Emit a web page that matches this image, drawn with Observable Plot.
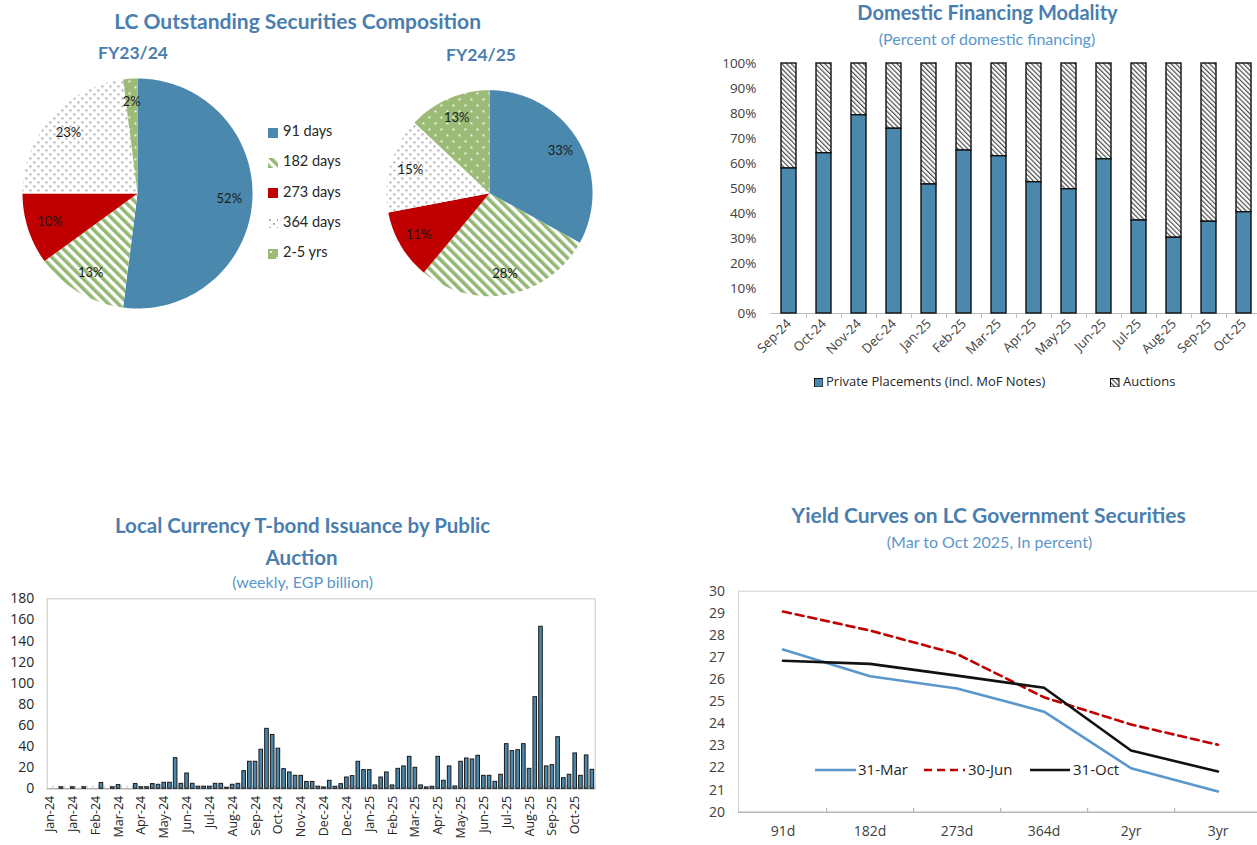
<!DOCTYPE html>
<html><head><meta charset="utf-8">
<script src="https://cdn.jsdelivr.net/npm/d3@7"></script>
<script src="https://cdn.jsdelivr.net/npm/@observablehq/plot@0.6"></script>
<style>
html,body{margin:0;padding:0;background:#fff;overflow:hidden;}
#root{position:relative;width:1257px;height:845px;overflow:hidden;}
.t{position:absolute;white-space:nowrap;line-height:1;transform:translateX(-50%);text-align:center;}
.title{font-family:Lato,sans-serif;font-weight:700;color:#4a7eae;}
.sub{font-family:Lato,sans-serif;font-weight:400;color:#5b96cb;}
.lg{position:absolute;white-space:nowrap;line-height:1;color:#262626;}
</style></head>
<body>
<svg width="0" height="0" style="position:absolute">
<defs>
<pattern id="p182" patternUnits="userSpaceOnUse" width="7" height="7" patternTransform="rotate(-45)"><rect width="7" height="7" fill="#fff"/><rect width="3.6" height="7" fill="#93b874"/></pattern>
<pattern id="p364" patternUnits="userSpaceOnUse" width="8" height="8"><rect width="8" height="8" fill="#fff"/><rect x="1" y="1" width="1.8" height="1.8" fill="#9a9a9a"/><rect x="5" y="5" width="1.8" height="1.8" fill="#9a9a9a"/></pattern>
<pattern id="p25" patternUnits="userSpaceOnUse" width="12" height="12"><rect width="12" height="12" fill="#9bbb77"/><rect x="2" y="2" width="1.8" height="1.8" fill="#fff"/><rect x="8" y="8" width="1.8" height="1.8" fill="#fff"/></pattern>
<pattern id="pAuc" patternUnits="userSpaceOnUse" width="3.4" height="3.4" patternTransform="rotate(-45)"><rect width="3.4" height="3.4" fill="#fff"/><rect width="1.2" height="3.4" fill="#4d4d4d"/></pattern>
</defs></svg>
<div id="root"></div>
<script>
// ---------------- DATA ----------------
const maturities = ["91 days", "182 days", "273 days", "364 days", "2-5 yrs"];
const fy2324Shares = [52, 13, 10, 23, 2];
const fy2425Shares = [33, 28, 11, 15, 13];
const maturityFills = ["#4a89ad", "url(#p182)", "#c00000", "url(#p364)", "url(#p25)"];

const financingMonths = ["Sep-24","Oct-24","Nov-24","Dec-24","Jan-25","Feb-25","Mar-25","Apr-25","May-25","Jun-25","Jul-25","Aug-25","Sep-25","Oct-25"];
const privatePlacementsPct = [58.0, 64.1, 79.3, 73.9, 51.6, 65.2, 62.9, 52.5, 49.7, 61.7, 37.2, 30.3, 36.7, 40.5];

const weeklyIssuance = [
  0, 0, 1.5, 0, 1.5, 0, 1.5, 0, 0, 5.5, 0, 1.5, 3.5, 0, 0, 4.5,
  1.5, 1.5, 4.5, 3.8, 5.7, 5.7, 29, 4.7, 14.5, 4.7, 2, 2, 2, 4.7, 4.7, 1,
  3.8, 4.7, 16.7, 25.6, 25.6, 37, 56.8, 51, 38, 18.6, 15.5, 12.3, 12.3, 6.5, 6.5, 2,
  1.3, 7.6, 1.9, 4.4, 10.7, 12, 25.6, 17.7, 17.7, 3.2, 10.7, 15.5, 3.2, 18.9, 21.2, 30.3,
  19.9, 3.2, 1.3, 1.9, 30.3, 7.6, 21.2, 2.2, 25.6, 28.7, 27.8, 31.3, 12.3, 12.3, 6.6, 13.3,
  42.3, 35.7, 36.6, 42.3, 18.9, 86.8, 153.5, 21.2, 22.4, 48.9, 10.1, 13.3, 33.5, 12.3, 31.6, 18
];
const weeklyTickLabels = ["Jan-24","Jan-24","Feb-24","Mar-24","Apr-24","May-24","Jun-24","Jul-24","Aug-24","Sep-24","Oct-24","Nov-24","Dec-24","Dec-24","Jan-25","Feb-25","Mar-25","Apr-25","May-25","Jun-25","Jul-25","Aug-25","Sep-25","Oct-25"];

const tenors = ["91d", "182d", "273d", "364d", "2yr", "3yr"];
const yieldSeriesNames = ["31-Mar", "30-Jun", "31-Oct"];
const yieldMar = [27.36, 26.15, 25.60, 24.55, 21.99, 20.94];
const yieldJun = [29.08, 28.22, 27.16, 25.20, 23.97, 23.05];
const yieldOct = [26.85, 26.71, 26.18, 25.63, 22.79, 21.84];

// ---------------- HELPERS ----------------
const root = document.getElementById("root");
function place(el, left, top) {
  el.style.position = "absolute"; el.style.left = left + "px"; el.style.top = top + "px";
  root.appendChild(el); return el;
}
function text(cls, str, cx, top, size) {
  const d = document.createElement("div");
  d.className = cls; d.textContent = str; d.style.fontSize = size + "px";
  d.style.left = cx + "px"; d.style.top = top + "px";
  root.appendChild(d); return d;
}
function lgText(str, left, baseline, size, family) {
  const d = document.createElement("div");
  d.className = "lg"; d.textContent = str;
  d.style.fontSize = size + "px"; d.style.fontFamily = family;
  d.style.left = left + "px"; d.style.top = (baseline - 0.888 * size) + "px";
  root.appendChild(d); return d;
}
function swatch(fill, left, top, w, h, stroke) {
  const ns = "http://www.w3.org/2000/svg";
  const s = document.createElementNS(ns, "svg");
  s.setAttribute("width", w); s.setAttribute("height", h);
  const r = document.createElementNS(ns, "rect");
  r.setAttribute("x", stroke ? 0.5 : 0); r.setAttribute("y", stroke ? 0.5 : 0);
  r.setAttribute("width", stroke ? w - 1 : w); r.setAttribute("height", stroke ? h - 1 : h);
  r.setAttribute("fill", fill);
  if (stroke) { r.setAttribute("stroke", stroke); r.setAttribute("stroke-width", 1); }
  s.appendChild(r);
  return place(s, left, top);
}
function lineSwatch(color, dash, left, cy, w) {
  const ns = "http://www.w3.org/2000/svg";
  const s = document.createElementNS(ns, "svg");
  s.setAttribute("width", w); s.setAttribute("height", 6);
  const l = document.createElementNS(ns, "line");
  l.setAttribute("x1", 0); l.setAttribute("x2", w); l.setAttribute("y1", 3); l.setAttribute("y2", 3);
  l.setAttribute("stroke", color); l.setAttribute("stroke-width", 2.6);
  if (dash) l.setAttribute("stroke-dasharray", dash);
  s.appendChild(l);
  return place(s, left, cy - 3);
}

// ---------------- PANEL A: PIES ----------------
function pieSlices(shares, cx, cy, r) {
  const arcs = d3.pie().sort(null).value(d => d)(shares);
  return arcs.map((a, i) => {
    const pts = [[cx, cy]];
    const n = Math.max(3, Math.ceil((a.endAngle - a.startAngle) / (Math.PI / 180)));
    for (let k = 0; k <= n; k++) {
      const t = a.startAngle + (a.endAngle - a.startAngle) * k / n;
      pts.push([cx + r * Math.sin(t), cy - r * Math.cos(t)]);
    }
    pts.push([cx, cy]);
    const mid = (a.startAngle + a.endAngle) / 2;
    return {i, share: shares[i], pts,
      lx: cx + 0.8 * r * Math.sin(mid), ly: cy - 0.8 * r * Math.cos(mid)};
  });
}
const pie1 = pieSlices(fy2324Shares, 137, 193, 115);
const pie2 = pieSlices(fy2425Shares, 489, 192.7, 103);
const pieMarks = [];
for (const s of [...pie1, ...pie2]) {
  pieMarks.push(Plot.line(s.pts, {x: d => d[0], y: d => d[1], fill: maturityFills[s.i], stroke: "none", curve: "linear"}));
}
pieMarks.push(Plot.text([...pie1, ...pie2], {x: "lx", y: "ly", text: d => d.share + "%", fontSize: 13, fill: "#1a1a1a", fontFamily: "Lato"}));
const pieSvg = Plot.plot({
  width: 600, height: 320, margin: 0,
  style: {background: "transparent", overflow: "visible"},
  x: {domain: [0, 600], range: [0, 600], axis: null},
  y: {domain: [0, 320], range: [0, 320], axis: null},
  marks: pieMarks
});
place(pieSvg, 0, 0);

// ---------------- PANEL B: STACKED BARS ----------------
const finData = financingMonths.map((m, i) => ({month: m, pp: privatePlacementsPct[i]}));
const stepB = 490.6 / financingMonths.length;
const finSvg = Plot.plot({
  width: 580, height: 325, marginLeft: 80, marginRight: 9.4, marginTop: 13, marginBottom: 62,
  style: {background: "transparent", fontFamily: "'Open Sans', sans-serif", color: "#404040", overflow: "visible"},
  x: {domain: financingMonths, paddingInner: 0.585, paddingOuter: 0.2925},
  y: {domain: [0, 100]},
  marks: [
    Plot.axisY({ticks: d3.range(0, 101, 10), tickFormat: d => d + "%", tickSize: 0, tickPadding: 14, fontSize: 13.5, label: null}),
    Plot.axisX({tickSize: 0, tickRotate: -45, tickPadding: 8, fontSize: 13, label: null}),
    Plot.ruleX(financingMonths, {x: d => d, dx: stepB / 2, y1: 0, y2: -2, stroke: "#bfbfbf"}),
    Plot.ruleY([0], {stroke: "#bfbfbf"}),
    Plot.barY(finData, {x: "month", y1: "pp", y2: 100, fill: "url(#pAuc)", stroke: "#111", strokeWidth: 1.4}),
    Plot.barY(finData, {x: "month", y1: 0, y2: "pp", fill: "#4a89ad", stroke: "#111", strokeWidth: 1.4})
  ]
});
place(finSvg, 690, 50);

// ---------------- PANEL C: WEEKLY BARS ----------------
const weekIdx = d3.range(weeklyIssuance.length);
const weekData = weekIdx.map(i => ({week: i, value: weeklyIssuance[i]}));
const stepC = 548 / weekIdx.length;
const weekSvg = Plot.plot({
  width: 600, height: 255, marginLeft: 46.7, marginRight: 5.3, marginTop: 8.3, marginBottom: 56.7,
  style: {background: "transparent", fontFamily: "'Open Sans', sans-serif", color: "#262626", overflow: "visible"},
  x: {type: "band", domain: weekIdx, paddingInner: 0.37, paddingOuter: 0.185},
  y: {domain: [0, 180]},
  marks: [
    Plot.frame({stroke: "#c8c8c8"}),
    Plot.axisY({ticks: d3.range(0, 181, 20), tickSize: 0, tickPadding: 13, fontSize: 14, label: null}),
    Plot.axisX({ticks: weeklyTickLabels.map((_, k) => 4 * k), tickFormat: i => weeklyTickLabels[i / 4], tickSize: 0, tickRotate: -90, tickPadding: 7, fontSize: 12.5, label: null}),
    Plot.ruleX(weekIdx, {x: d => d, dx: stepC / 2, y1: 0, y2: 2.8, stroke: "#c8c8c8"}),
    Plot.ruleY([0], {stroke: "#a6a6a6"}),
    Plot.barY(weekData, {x: "week", y: "value", fill: "#4a89ad", stroke: "#1a1a1a", strokeWidth: 1})
  ]
});
place(weekSvg, 0, 590);

// ---------------- PANEL D: YIELD CURVES ----------------
const yieldValues = [yieldMar, yieldJun, yieldOct];
const yieldColors = ["#5b97cc", "#c00000", "#111111"];
const yieldDash = [null, "8,5", null];
const yieldMarks = yieldValues.map((vals, s) => Plot.line(tenors.map((t, i) => ({tenor: t, value: vals[i]})), {
  x: "tenor", y: "value", stroke: yieldColors[s], strokeWidth: 2.6, curve: "linear",
  strokeDasharray: yieldDash[s] || undefined
}));
const stepD = 524 / tenors.length;
const yieldSvg = Plot.plot({
  width: 580, height: 265, marginLeft: 48, marginRight: 8, marginTop: 10.7, marginBottom: 33.3,
  style: {background: "transparent", fontFamily: "'Open Sans', sans-serif", color: "#404040", overflow: "visible"},
  x: {type: "band", domain: tenors, padding: 0},
  y: {domain: [20, 30]},
  marks: [
    Plot.frame({stroke: "#d0d0d0"}),
    Plot.axisY({ticks: d3.range(20, 31, 1), tickSize: 0, tickPadding: 13.6, fontSize: 14, label: null}),
    Plot.axisX({tickSize: 0, tickPadding: 14, fontSize: 14, label: null}),
    Plot.ruleY([20], {stroke: "#a6a6a6"}),
    Plot.ruleX(tenors.slice(0, -1), {x: d => d, dx: stepD / 2, y1: 20, y2: 20.18, stroke: "#a6a6a6"}),
    ...yieldMarks
  ]
});
place(yieldSvg, 690, 580);

// ---------------- TEXT & LEGENDS ----------------
text("t title", "LC Outstanding Securities Composition", 297.6, 9.7, 21);
text("t title", "FY23/24", 133, 43.8, 17.5);
text("t title", "FY24/25", 481, 46.2, 17.5);
maturities.forEach((m, i) => {
  const base = 137 + 30.3 * i;
  swatch(maturityFills[i], 268, base - 9.5, 10, 10);
  lgText(m, 283, base, 14.5, "Lato");
});

text("t title", "Domestic Financing Modality", 987.5, 2.2, 20);
text("t sub", "(Percent of domestic financing)", 987, 30.8, 16);
swatch("#4a89ad", 813.6, 377.5, 9.5, 9.5, "#111");
lgText("Private Placements (incl. MoF Notes)", 826, 387, 13, "'Open Sans'");
swatch("url(#pAuc)", 1110, 377.5, 9.5, 9.5, "#111");
lgText("Auctions", 1123, 387, 13, "'Open Sans'");

text("t title", "Local Currency T-bond Issuance by Public", 302.6, 514.8, 20.5);
text("t title", "Auction", 301.6, 546.8, 20.5);
text("t sub", "(weekly, EGP billion)", 302.6, 573.8, 16);

text("t title", "Yield Curves on LC Government Securities", 988.7, 504.4, 21);
text("t sub", "(Mar to Oct 2025, In percent)", 989.5, 533.8, 16);
const legX = [[815, 41, 858], [924, 41, 968], [1030, 40, 1073]];
yieldSeriesNames.forEach((n, s) => {
  lineSwatch(yieldColors[s], yieldDash[s], legX[s][0], 770, legX[s][1]);
  lgText(n, legX[s][2], 775.4, 15, "'Open Sans'");
});
</script>
</body></html>
